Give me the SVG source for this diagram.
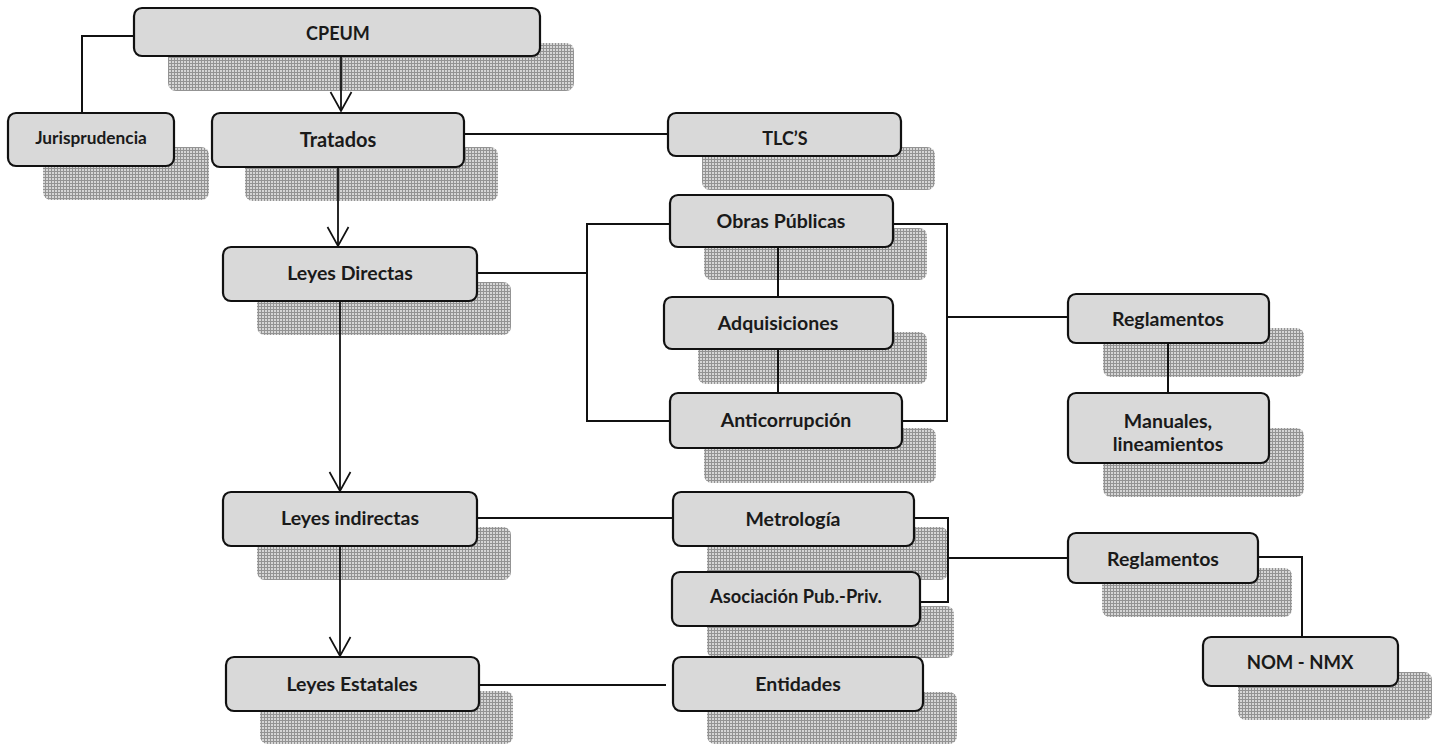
<svg xmlns="http://www.w3.org/2000/svg" width="1437" height="744" viewBox="0 0 1437 744">
<defs>
<pattern id="dots" width="3" height="3" patternUnits="userSpaceOnUse">
<rect width="3" height="3" fill="#d6d6d6"/>
<rect width="1" height="3" fill="#939393"/>
<rect width="3" height="1" fill="#939393"/>
</pattern>
<marker id="arr" markerWidth="24" markerHeight="22" refX="12" refY="20" markerUnits="userSpaceOnUse" orient="0" overflow="visible">
<path d="M1.5,1 L12,20 L22.5,1" fill="none" stroke="#111" stroke-width="1.7"/>
</marker>
</defs>
<style>
.sh{fill:url(#dots)}
.bx{fill:#d9d9d9;stroke:#111;stroke-width:2.2}
.t{font-family:Lato,"Liberation Sans",sans-serif;font-weight:bold;font-size:19.5px;fill:#1a1a1a;text-anchor:middle}
.c{fill:none;stroke:#111;stroke-width:2}
.a{fill:none;stroke:#111;stroke-width:1.8;marker-end:url(#arr)}
</style>
<g id="n-cpeum"><rect class="sh" x="168" y="43" width="406" height="48" rx="8"/><rect class="bx" x="134" y="8" width="406" height="48" rx="8"/><text class="t" x="338" y="40" style="font-size:18px">CPEUM</text></g>
<g id="n-jurisprudencia"><rect class="sh" x="43" y="147" width="166" height="53" rx="8"/><rect class="bx" x="8" y="113" width="166" height="53" rx="8"/><text class="t" x="91" y="144" style="font-size:17.3px">Jurisprudencia</text></g>
<g id="n-tratados"><rect class="sh" x="245" y="147" width="253" height="54" rx="8"/><rect class="bx" x="212" y="113" width="252" height="54" rx="8"/><text class="t" x="338" y="147" style="font-size:20px">Tratados</text></g>
<g id="n-tlcs"><rect class="sh" x="702" y="147" width="233" height="43" rx="8"/><rect class="bx" x="668" y="113" width="233" height="43" rx="8"/><text class="t" x="785" y="145" style="font-size:18px">TLC’S</text></g>
<g id="n-obras"><rect class="sh" x="704" y="228" width="223" height="52" rx="8"/><rect class="bx" x="670" y="195" width="223" height="52" rx="8"/><text class="t" x="781" y="228">Obras Públicas</text></g>
<g id="n-leyesdirectas"><rect class="sh" x="257" y="282" width="254" height="53" rx="8"/><rect class="bx" x="223" y="247" width="254" height="54" rx="8"/><text class="t" x="350" y="280">Leyes Directas</text></g>
<g id="n-reglamentos1"><rect class="sh" x="1103" y="328" width="201" height="49" rx="8"/><rect class="bx" x="1068" y="294" width="201" height="49" rx="8"/><text class="t" x="1168" y="326">Reglamentos</text></g>
<g id="n-adquisiciones"><rect class="sh" x="698" y="332" width="229" height="52" rx="8"/><rect class="bx" x="664" y="297" width="229" height="52" rx="8"/><text class="t" x="778" y="330">Adquisiciones</text></g>
<g id="n-anticorrupcion"><rect class="sh" x="704" y="428" width="232" height="55" rx="8"/><rect class="bx" x="670" y="393" width="232" height="55" rx="8"/><text class="t" x="786" y="427">Anticorrupción</text></g>
<g id="n-manuales"><rect class="sh" x="1103" y="428" width="201" height="69" rx="8"/><rect class="bx" x="1068" y="393" width="201" height="70" rx="8"/><text class="t" x="1168" y="428">Manuales,</text><text class="t" x="1168" y="451">lineamientos</text></g>
<g id="n-leyesindirectas"><rect class="sh" x="257" y="527" width="254" height="53" rx="8"/><rect class="bx" x="223" y="492" width="254" height="54" rx="8"/><text class="t" x="350" y="525">Leyes indirectas</text></g>
<g id="n-metrologia"><rect class="sh" x="707" y="527" width="241" height="53" rx="8"/><rect class="bx" x="673" y="492" width="241" height="54" rx="8"/><text class="t" x="793" y="526">Metrología</text></g>
<g id="n-reglamentos2"><rect class="sh" x="1102" y="568" width="190" height="49" rx="8"/><rect class="bx" x="1068" y="533" width="190" height="50" rx="8"/><text class="t" x="1163" y="566">Reglamentos</text></g>
<g id="n-asociacion"><rect class="sh" x="707" y="606" width="247" height="52" rx="8"/><rect class="bx" x="672" y="572" width="248" height="54" rx="8"/><text class="t" x="796" y="603" style="font-size:18.3px">Asociación Pub.-Priv.</text></g>
<g id="n-nom"><rect class="sh" x="1238" y="672" width="194" height="48" rx="8"/><rect class="bx" x="1203" y="637" width="195" height="49" rx="8"/><text class="t" x="1300" y="669" style="font-size:18.5px">NOM - NMX</text></g>
<g id="n-leyesestatales"><rect class="sh" x="260" y="691" width="253" height="53" rx="8"/><rect class="bx" x="226" y="657" width="253" height="54" rx="8"/><text class="t" x="352" y="691">Leyes Estatales</text></g>
<g id="n-entidades"><rect class="sh" x="707" y="692" width="250" height="52" rx="8"/><rect class="bx" x="673" y="657" width="250" height="54" rx="8"/><text class="t" x="798" y="691">Entidades</text></g>
<g id="connectors">
<path class="a" d="M341,56 V111"/>
<path class="a" d="M338,167 V246"/>
<path class="a" d="M340,301 V491"/>
<path class="a" d="M340,546 V656"/>
<path class="c" d="M134,36 H82 V113"/>
<path class="c" d="M464,134 H668"/>
<path class="c" d="M477,273 H587"/>
<path class="c" d="M670,224 H587 V421 H670"/>
<path class="c" d="M778,247 V297"/>
<path class="c" d="M778,349 V393"/>
<path class="c" d="M893,224 H947 V421 H902"/>
<path class="c" d="M947,317 H1068"/>
<path class="c" d="M1168,343 V393"/>
<path class="c" d="M477,518 H673"/>
<path class="c" d="M914,518 H948 V602 H920"/>
<path class="c" d="M948,558 H1068"/>
<path class="c" d="M1258,557 H1302 V637"/>
<path class="c" d="M479,685 H666"/>
</g>
</svg>
